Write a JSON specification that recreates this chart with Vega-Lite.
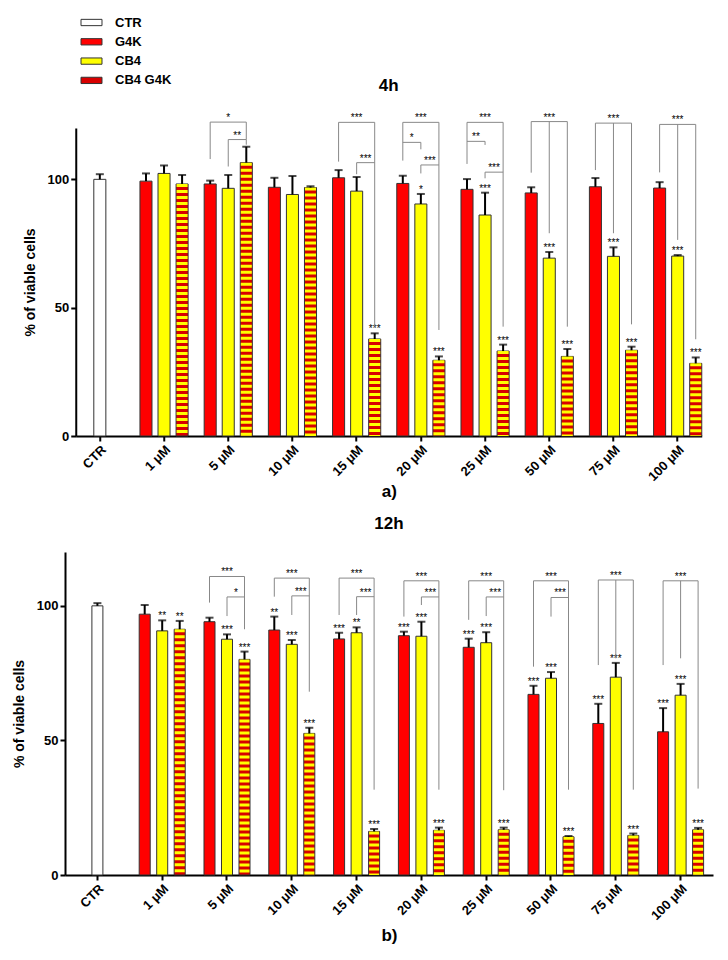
{
  "$schema": "https://vega.github.io/schema/vega-lite/v6.json",
  "padding": {"left": 12, "top": 16, "right": 10, "bottom": 10},
  "config": {
    "font": "Liberation Sans",
    "view": {"stroke": null},
    "axis": {"domainColor": "#000", "domainWidth": 2, "tickColor": "#000", "tickWidth": 2, "tickSize": 5, "labelColor": "#000", "labelFontWeight": "bold", "labelFontSize": 13, "titleFontWeight": "bold", "titleColor": "#000", "grid": false},
    "title": {"fontSize": 17, "fontWeight": "bold", "color": "#000"}
  },
  "datasets": {
    "a": [
      {"g": "CTR", "s": "CTR", "slot": 2, "v": 100, "hi": 102, "sig": ""},
      {"g": "1 μM", "s": "G4K", "slot": 1, "v": 99.3, "hi": 102.3, "sig": ""},
      {"g": "1 μM", "s": "CB4", "slot": 2, "v": 102.3, "hi": 105.4, "sig": ""},
      {"g": "1 μM", "s": "CB4 G4K", "slot": 3, "v": 98.2, "hi": 101.7, "sig": ""},
      {"g": "5 μM", "s": "G4K", "slot": 1, "v": 98.2, "hi": 99.5, "sig": ""},
      {"g": "5 μM", "s": "CB4", "slot": 2, "v": 96.5, "hi": 101.7, "sig": ""},
      {"g": "5 μM", "s": "CB4 G4K", "slot": 3, "v": 106.5, "hi": 112.7, "sig": ""},
      {"g": "10 μM", "s": "G4K", "slot": 1, "v": 96.9, "hi": 100.6, "sig": ""},
      {"g": "10 μM", "s": "CB4", "slot": 2, "v": 94.1, "hi": 101.3, "sig": ""},
      {"g": "10 μM", "s": "CB4 G4K", "slot": 3, "v": 96.8, "hi": 97.3, "sig": ""},
      {"g": "15 μM", "s": "G4K", "slot": 1, "v": 100.6, "hi": 103.6, "sig": ""},
      {"g": "15 μM", "s": "CB4", "slot": 2, "v": 95.4, "hi": 100.9, "sig": ""},
      {"g": "15 μM", "s": "CB4 G4K", "slot": 3, "v": 37.8, "hi": 40, "sig": "***"},
      {"g": "20 μM", "s": "G4K", "slot": 1, "v": 98.4, "hi": 101.4, "sig": ""},
      {"g": "20 μM", "s": "CB4", "slot": 2, "v": 90.4, "hi": 94.3, "sig": "*"},
      {"g": "20 μM", "s": "CB4 G4K", "slot": 3, "v": 29.5, "hi": 31, "sig": "***"},
      {"g": "25 μM", "s": "G4K", "slot": 1, "v": 96.1, "hi": 100.1, "sig": ""},
      {"g": "25 μM", "s": "CB4", "slot": 2, "v": 86.1, "hi": 94.8, "sig": "***"},
      {"g": "25 μM", "s": "CB4 G4K", "slot": 3, "v": 33.1, "hi": 35.6, "sig": "***"},
      {"g": "50 μM", "s": "G4K", "slot": 1, "v": 94.7, "hi": 96.9, "sig": ""},
      {"g": "50 μM", "s": "CB4", "slot": 2, "v": 69.3, "hi": 71.7, "sig": "***"},
      {"g": "50 μM", "s": "CB4 G4K", "slot": 3, "v": 31, "hi": 33.9, "sig": "***"},
      {"g": "75 μM", "s": "G4K", "slot": 1, "v": 97.1, "hi": 100.5, "sig": ""},
      {"g": "75 μM", "s": "CB4", "slot": 2, "v": 70, "hi": 73.5, "sig": "***"},
      {"g": "75 μM", "s": "CB4 G4K", "slot": 3, "v": 33.4, "hi": 34.8, "sig": "***"},
      {"g": "100 μM", "s": "G4K", "slot": 1, "v": 96.6, "hi": 98.9, "sig": ""},
      {"g": "100 μM", "s": "CB4", "slot": 2, "v": 70.1, "hi": 70.5, "sig": "***"},
      {"g": "100 μM", "s": "CB4 G4K", "slot": 3, "v": 28.3, "hi": 30.6, "sig": "***"}
    ],
    "b": [
      {"g": "CTR", "s": "CTR", "slot": 2, "v": 100, "hi": 101, "sig": ""},
      {"g": "1 μM", "s": "G4K", "slot": 1, "v": 96.9, "hi": 100.3, "sig": ""},
      {"g": "1 μM", "s": "CB4", "slot": 2, "v": 90.7, "hi": 94.6, "sig": "**"},
      {"g": "1 μM", "s": "CB4 G4K", "slot": 3, "v": 91.3, "hi": 94.4, "sig": "**"},
      {"g": "5 μM", "s": "G4K", "slot": 1, "v": 94.1, "hi": 95.6, "sig": ""},
      {"g": "5 μM", "s": "CB4", "slot": 2, "v": 87.6, "hi": 89.4, "sig": "***"},
      {"g": "5 μM", "s": "CB4 G4K", "slot": 3, "v": 80.1, "hi": 83, "sig": "***"},
      {"g": "10 μM", "s": "G4K", "slot": 1, "v": 91, "hi": 96, "sig": "**"},
      {"g": "10 μM", "s": "CB4", "slot": 2, "v": 85.7, "hi": 87.3, "sig": "***"},
      {"g": "10 μM", "s": "CB4 G4K", "slot": 3, "v": 52.6, "hi": 54.7, "sig": "***"},
      {"g": "15 μM", "s": "G4K", "slot": 1, "v": 87.7, "hi": 90, "sig": "***"},
      {"g": "15 μM", "s": "CB4", "slot": 2, "v": 90, "hi": 92, "sig": "**"},
      {"g": "15 μM", "s": "CB4 G4K", "slot": 3, "v": 16.2, "hi": 17.1, "sig": "***"},
      {"g": "20 μM", "s": "G4K", "slot": 1, "v": 88.9, "hi": 90.4, "sig": "***"},
      {"g": "20 μM", "s": "CB4", "slot": 2, "v": 88.7, "hi": 94.1, "sig": "***"},
      {"g": "20 μM", "s": "CB4 G4K", "slot": 3, "v": 16.6, "hi": 17.6, "sig": "***"},
      {"g": "25 μM", "s": "G4K", "slot": 1, "v": 84.6, "hi": 87.8, "sig": "***"},
      {"g": "25 μM", "s": "CB4", "slot": 2, "v": 86.3, "hi": 90.2, "sig": "***"},
      {"g": "25 μM", "s": "CB4 G4K", "slot": 3, "v": 16.8, "hi": 17.6, "sig": "***"},
      {"g": "50 μM", "s": "G4K", "slot": 1, "v": 67.1, "hi": 70.3, "sig": "***"},
      {"g": "50 μM", "s": "CB4", "slot": 2, "v": 73.1, "hi": 75.4, "sig": "***"},
      {"g": "50 μM", "s": "CB4 G4K", "slot": 3, "v": 14.2, "hi": 14.5, "sig": "***"},
      {"g": "75 μM", "s": "G4K", "slot": 1, "v": 56.3, "hi": 63.6, "sig": "***"},
      {"g": "75 μM", "s": "CB4", "slot": 2, "v": 73.5, "hi": 78.8, "sig": "***"},
      {"g": "75 μM", "s": "CB4 G4K", "slot": 3, "v": 14.7, "hi": 15.4, "sig": "***"},
      {"g": "100 μM", "s": "G4K", "slot": 1, "v": 53.2, "hi": 62, "sig": "***"},
      {"g": "100 μM", "s": "CB4", "slot": 2, "v": 66.8, "hi": 71, "sig": "***"},
      {"g": "100 μM", "s": "CB4 G4K", "slot": 3, "v": 16.8, "hi": 17.5, "sig": "***"}
    ],
    "ba": [
      {"g": "5 μM", "id": "5-1", "k": 1, "slot": 1, "y": 107.9},
      {"g": "5 μM", "id": "5-1", "k": 2, "slot": 1, "y": 122.3},
      {"g": "5 μM", "id": "5-1", "k": 3, "slot": 3, "y": 122.3},
      {"g": "5 μM", "id": "5-1", "k": 4, "slot": 3, "y": 115.5},
      {"g": "5 μM", "id": "5-2", "k": 1, "slot": 2, "y": 105},
      {"g": "5 μM", "id": "5-2", "k": 2, "slot": 2, "y": 115.5},
      {"g": "5 μM", "id": "5-2", "k": 3, "slot": 3, "y": 115.5},
      {"g": "5 μM", "id": "5-2", "k": 4, "slot": 3, "y": 113.5},
      {"g": "15 μM", "id": "15-1", "k": 1, "slot": 1, "y": 106.9},
      {"g": "15 μM", "id": "15-1", "k": 2, "slot": 1, "y": 122.2},
      {"g": "15 μM", "id": "15-1", "k": 3, "slot": 3, "y": 122.2},
      {"g": "15 μM", "id": "15-1", "k": 4, "slot": 3, "y": 42.6},
      {"g": "15 μM", "id": "15-2", "k": 1, "slot": 2, "y": 102},
      {"g": "15 μM", "id": "15-2", "k": 2, "slot": 2, "y": 106.5},
      {"g": "15 μM", "id": "15-2", "k": 3, "slot": 3, "y": 106.5},
      {"g": "20 μM", "id": "20-1", "k": 1, "slot": 1, "y": 107.3},
      {"g": "20 μM", "id": "20-1", "k": 2, "slot": 1, "y": 122.2},
      {"g": "20 μM", "id": "20-1", "k": 3, "slot": 3, "y": 122.2},
      {"g": "20 μM", "id": "20-1", "k": 4, "slot": 3, "y": 41.3},
      {"g": "20 μM", "id": "20-2", "k": 1, "slot": 1, "y": 114.4},
      {"g": "20 μM", "id": "20-2", "k": 2, "slot": 2, "y": 114.4},
      {"g": "20 μM", "id": "20-2", "k": 3, "slot": 2, "y": 111.7},
      {"g": "20 μM", "id": "20-3", "k": 1, "slot": 2, "y": 102.3},
      {"g": "20 μM", "id": "20-3", "k": 2, "slot": 2, "y": 105.6},
      {"g": "20 μM", "id": "20-3", "k": 3, "slot": 3, "y": 105.6},
      {"g": "25 μM", "id": "25-1", "k": 1, "slot": 1, "y": 106},
      {"g": "25 μM", "id": "25-1", "k": 2, "slot": 1, "y": 122.2},
      {"g": "25 μM", "id": "25-1", "k": 3, "slot": 3, "y": 122.2},
      {"g": "25 μM", "id": "25-1", "k": 4, "slot": 3, "y": 42.6},
      {"g": "25 μM", "id": "25-2", "k": 1, "slot": 1, "y": 114.8},
      {"g": "25 μM", "id": "25-2", "k": 2, "slot": 2, "y": 114.8},
      {"g": "25 μM", "id": "25-2", "k": 3, "slot": 2, "y": 113.4},
      {"g": "25 μM", "id": "25-3", "k": 1, "slot": 2, "y": 100.4},
      {"g": "25 μM", "id": "25-3", "k": 2, "slot": 2, "y": 102.8},
      {"g": "25 μM", "id": "25-3", "k": 3, "slot": 3, "y": 102.8},
      {"g": "50 μM", "id": "50-1", "k": 1, "slot": 1, "y": 102.6},
      {"g": "50 μM", "id": "50-1", "k": 2, "slot": 1, "y": 122.5},
      {"g": "50 μM", "id": "50-1", "k": 3, "slot": 3, "y": 122.5},
      {"g": "50 μM", "id": "50-1", "k": 4, "slot": 3, "y": 42.6},
      {"g": "50 μM", "id": "50-m", "k": 1, "slot": 2, "y": 122.5},
      {"g": "50 μM", "id": "50-m", "k": 2, "slot": 2, "y": 79},
      {"g": "75 μM", "id": "75-1", "k": 1, "slot": 1, "y": 103.6},
      {"g": "75 μM", "id": "75-1", "k": 2, "slot": 1, "y": 121.9},
      {"g": "75 μM", "id": "75-1", "k": 3, "slot": 3, "y": 121.9},
      {"g": "75 μM", "id": "75-1", "k": 4, "slot": 3, "y": 43.5},
      {"g": "75 μM", "id": "75-m", "k": 1, "slot": 2, "y": 121.9},
      {"g": "75 μM", "id": "75-m", "k": 2, "slot": 2, "y": 79},
      {"g": "100 μM", "id": "100-1", "k": 1, "slot": 1, "y": 102.7},
      {"g": "100 μM", "id": "100-1", "k": 2, "slot": 1, "y": 121.4},
      {"g": "100 μM", "id": "100-1", "k": 3, "slot": 3, "y": 121.4},
      {"g": "100 μM", "id": "100-1", "k": 4, "slot": 3, "y": 37.7},
      {"g": "100 μM", "id": "100-m", "k": 1, "slot": 2, "y": 121.4},
      {"g": "100 μM", "id": "100-m", "k": 2, "slot": 2, "y": 76.4}
    ],
    "la": [
      {"g": "5 μM", "slot": 2, "y": 122.3, "lab": "*", "half": 0},
      {"g": "5 μM", "slot": 2, "y": 115.5, "lab": "**", "half": 1},
      {"g": "15 μM", "slot": 2, "y": 122.2, "lab": "***", "half": 0},
      {"g": "15 μM", "slot": 2, "y": 106.5, "lab": "***", "half": 1},
      {"g": "20 μM", "slot": 2, "y": 122.2, "lab": "***", "half": 0},
      {"g": "20 μM", "slot": 1, "y": 114.4, "lab": "*", "half": 1},
      {"g": "20 μM", "slot": 2, "y": 105.6, "lab": "***", "half": 1},
      {"g": "25 μM", "slot": 2, "y": 122.2, "lab": "***", "half": 0},
      {"g": "25 μM", "slot": 1, "y": 114.8, "lab": "**", "half": 1},
      {"g": "25 μM", "slot": 2, "y": 102.8, "lab": "***", "half": 1},
      {"g": "50 μM", "slot": 2, "y": 122.5, "lab": "***", "half": 0},
      {"g": "75 μM", "slot": 2, "y": 121.9, "lab": "***", "half": 0},
      {"g": "100 μM", "slot": 2, "y": 121.4, "lab": "***", "half": 0}
    ],
    "bb": [
      {"g": "5 μM", "id": "5-1", "k": 1, "slot": 1, "y": 101.2},
      {"g": "5 μM", "id": "5-1", "k": 2, "slot": 1, "y": 110.9},
      {"g": "5 μM", "id": "5-1", "k": 3, "slot": 3, "y": 110.9},
      {"g": "5 μM", "id": "5-1", "k": 4, "slot": 3, "y": 91.3},
      {"g": "5 μM", "id": "5-2", "k": 1, "slot": 2, "y": 96.2},
      {"g": "5 μM", "id": "5-2", "k": 2, "slot": 2, "y": 103.3},
      {"g": "5 μM", "id": "5-2", "k": 3, "slot": 3, "y": 103.3},
      {"g": "10 μM", "id": "10-1", "k": 1, "slot": 1, "y": 103.4},
      {"g": "10 μM", "id": "10-1", "k": 2, "slot": 1, "y": 110.3},
      {"g": "10 μM", "id": "10-1", "k": 3, "slot": 3, "y": 110.3},
      {"g": "10 μM", "id": "10-1", "k": 4, "slot": 3, "y": 68.1},
      {"g": "10 μM", "id": "10-2", "k": 1, "slot": 2, "y": 96.6},
      {"g": "10 μM", "id": "10-2", "k": 2, "slot": 2, "y": 103.7},
      {"g": "10 μM", "id": "10-2", "k": 3, "slot": 3, "y": 103.7},
      {"g": "15 μM", "id": "15-1", "k": 1, "slot": 1, "y": 96.6},
      {"g": "15 μM", "id": "15-1", "k": 2, "slot": 1, "y": 110.3},
      {"g": "15 μM", "id": "15-1", "k": 3, "slot": 3, "y": 110.3},
      {"g": "15 μM", "id": "15-1", "k": 4, "slot": 3, "y": 31.7},
      {"g": "15 μM", "id": "15-2", "k": 1, "slot": 2, "y": 96.6},
      {"g": "15 μM", "id": "15-2", "k": 2, "slot": 2, "y": 103.4},
      {"g": "15 μM", "id": "15-2", "k": 3, "slot": 3, "y": 103.4},
      {"g": "20 μM", "id": "20-1", "k": 1, "slot": 1, "y": 96},
      {"g": "20 μM", "id": "20-1", "k": 2, "slot": 1, "y": 109.3},
      {"g": "20 μM", "id": "20-1", "k": 3, "slot": 3, "y": 109.3},
      {"g": "20 μM", "id": "20-1", "k": 4, "slot": 3, "y": 31.7},
      {"g": "20 μM", "id": "20-2", "k": 1, "slot": 2, "y": 100.3},
      {"g": "20 μM", "id": "20-2", "k": 2, "slot": 2, "y": 103.3},
      {"g": "20 μM", "id": "20-2", "k": 3, "slot": 3, "y": 103.3},
      {"g": "25 μM", "id": "25-1", "k": 1, "slot": 1, "y": 94.8},
      {"g": "25 μM", "id": "25-1", "k": 2, "slot": 1, "y": 109.3},
      {"g": "25 μM", "id": "25-1", "k": 3, "slot": 3, "y": 109.3},
      {"g": "25 μM", "id": "25-1", "k": 4, "slot": 3, "y": 31.5},
      {"g": "25 μM", "id": "25-2", "k": 1, "slot": 2, "y": 96.2},
      {"g": "25 μM", "id": "25-2", "k": 2, "slot": 2, "y": 103.3},
      {"g": "25 μM", "id": "25-2", "k": 3, "slot": 3, "y": 103.3},
      {"g": "50 μM", "id": "50-1", "k": 1, "slot": 1, "y": 77.4},
      {"g": "50 μM", "id": "50-1", "k": 2, "slot": 1, "y": 109.3},
      {"g": "50 μM", "id": "50-1", "k": 3, "slot": 3, "y": 109.3},
      {"g": "50 μM", "id": "50-1", "k": 4, "slot": 3, "y": 31.7},
      {"g": "50 μM", "id": "50-2", "k": 1, "slot": 2, "y": 96},
      {"g": "50 μM", "id": "50-2", "k": 2, "slot": 2, "y": 103.1},
      {"g": "50 μM", "id": "50-2", "k": 3, "slot": 3, "y": 103.1},
      {"g": "75 μM", "id": "75-1", "k": 1, "slot": 1, "y": 78},
      {"g": "75 μM", "id": "75-1", "k": 2, "slot": 1, "y": 109.6},
      {"g": "75 μM", "id": "75-1", "k": 3, "slot": 3, "y": 109.6},
      {"g": "75 μM", "id": "75-1", "k": 4, "slot": 3, "y": 31.7},
      {"g": "75 μM", "id": "75-m", "k": 1, "slot": 2, "y": 109.6},
      {"g": "75 μM", "id": "75-m", "k": 2, "slot": 2, "y": 80.5},
      {"g": "100 μM", "id": "100-1", "k": 1, "slot": 1, "y": 78},
      {"g": "100 μM", "id": "100-1", "k": 2, "slot": 1, "y": 109.3},
      {"g": "100 μM", "id": "100-1", "k": 3, "slot": 3, "y": 109.3},
      {"g": "100 μM", "id": "100-1", "k": 4, "slot": 3, "y": 32.1},
      {"g": "100 μM", "id": "100-m", "k": 1, "slot": 2, "y": 109.3},
      {"g": "100 μM", "id": "100-m", "k": 2, "slot": 2, "y": 80.5}
    ],
    "lb": [
      {"g": "5 μM", "slot": 2, "y": 110.9, "lab": "***", "half": 0},
      {"g": "5 μM", "slot": 2, "y": 103.3, "lab": "*", "half": 1},
      {"g": "10 μM", "slot": 2, "y": 110.3, "lab": "***", "half": 0},
      {"g": "10 μM", "slot": 2, "y": 103.7, "lab": "***", "half": 1},
      {"g": "15 μM", "slot": 2, "y": 110.3, "lab": "***", "half": 0},
      {"g": "15 μM", "slot": 2, "y": 103.4, "lab": "***", "half": 1},
      {"g": "20 μM", "slot": 2, "y": 109.3, "lab": "***", "half": 0},
      {"g": "20 μM", "slot": 2, "y": 103.3, "lab": "***", "half": 1},
      {"g": "25 μM", "slot": 2, "y": 109.3, "lab": "***", "half": 0},
      {"g": "25 μM", "slot": 2, "y": 103.3, "lab": "***", "half": 1},
      {"g": "50 μM", "slot": 2, "y": 109.3, "lab": "***", "half": 0},
      {"g": "50 μM", "slot": 2, "y": 103.1, "lab": "***", "half": 1},
      {"g": "75 μM", "slot": 2, "y": 109.6, "lab": "***", "half": 0},
      {"g": "100 μM", "slot": 2, "y": 109.3, "lab": "***", "half": 0}
    ]
  },
  "vconcat": [
    {
      "width": 626,
      "height": 308,
      "title": {"text": "4h", "offset": 18},
      "encoding": {
        "x": {"field": "g", "type": "nominal", "sort": null,
          "scale": {"domain": ["CTR", "1 μM", "5 μM", "10 μM", "15 μM", "20 μM", "25 μM", "50 μM", "75 μM", "100 μM"], "paddingInner": 0.25, "paddingOuter": 0},
          "axis": {"title": "a)", "labelAngle": -45, "titleFontSize": 17, "titlePadding": 0, "labelPadding": 2}},
        "xOffset": {"field": "slot", "type": "nominal", "scale": {"domain": [1, 2, 3], "paddingInner": 0.333, "paddingOuter": 0}}
      },
      "layer": [
        {
          "data": {"name": "a"},
          "mark": {"type": "bar", "stroke": "#333", "strokeWidth": 1},
          "encoding": {
            "y": {"field": "v", "type": "quantitative", "scale": {"domain": [0, 120], "nice": false},
              "axis": {"title": "% of viable cells", "values": [0, 50, 100], "titleFontSize": 14, "labelFontSize": 13, "titlePadding": 10, "labelPadding": 2}},
            "fill": {
              "field": "s", "type": "nominal",
              "scale": {"domain": ["CTR", "G4K", "CB4", "CB4 G4K"], "range": ["#ffffff", "#ff0000", "#ffff00", "#d80000"]},
              "legend": {"orient": "none", "legendX": 20, "legendY": -112, "title": null, "padding": 0,
                "symbolType": "M-2,-0.6L2,-0.6L2,0.6L-2,0.6Z", "symbolSize": 110, "symbolStrokeWidth": 1, "symbolOpacity": 1,
                "labelFontSize": 13, "labelFontWeight": "bold", "labelColor": "#000", "labelOffset": 17, "rowPadding": 5.3}
            }
          }
        },
        {
          "data": {"name": "a"},
          "transform": [{"filter": "datum.s === 'CB4 G4K'"}],
          "mark": {"type": "rule", "color": "#ffff00", "strokeWidth": 11, "strokeDash": [3, 3], "strokeCap": "butt"},
          "encoding": {"y": {"field": "v", "type": "quantitative"}, "y2": {"datum": 0}}
        },
        {
          "data": {"name": "a"},
          "mark": {"type": "rule", "color": "#000", "strokeWidth": 2},
          "encoding": {"y": {"field": "v", "type": "quantitative"}, "y2": {"field": "hi"}}
        },
        {
          "data": {"name": "a"},
          "mark": {"type": "tick", "orient": "horizontal", "color": "#000", "size": 8, "thickness": 2},
          "encoding": {"y": {"field": "hi", "type": "quantitative"}}
        },
        {
          "data": {"name": "a"},
          "mark": {"type": "text", "fontSize": 10, "baseline": "alphabetic", "dy": -1, "color": "#000"},
          "encoding": {"y": {"field": "hi", "type": "quantitative"}, "text": {"field": "sig"}}
        },
        {
          "data": {"name": "ba"},
          "mark": {"type": "line", "color": "#888", "strokeWidth": 1},
          "encoding": {"y": {"field": "y", "type": "quantitative"}, "detail": {"field": "id"}, "order": {"field": "k"}}
        },
        {
          "data": {"name": "la"},
          "transform": [{"filter": "datum.half === 0"}],
          "mark": {"type": "text", "fontSize": 10, "baseline": "alphabetic", "dy": -1, "color": "#000"},
          "encoding": {"y": {"field": "y", "type": "quantitative"}, "text": {"field": "lab"}}
        },
        {
          "data": {"name": "la"},
          "transform": [{"filter": "datum.half === 1"}],
          "mark": {"type": "text", "fontSize": 10, "baseline": "alphabetic", "dy": -1, "dx": 9, "color": "#000"},
          "encoding": {"y": {"field": "y", "type": "quantitative"}, "text": {"field": "lab"}}
        }
      ]
    },
    {
      "width": 648,
      "height": 323,
      "title": {"text": "12h", "offset": 19},
      "encoding": {
        "x": {"field": "g", "type": "nominal", "sort": null,
          "scale": {"domain": ["CTR", "1 μM", "5 μM", "10 μM", "15 μM", "20 μM", "25 μM", "50 μM", "75 μM", "100 μM"], "paddingInner": 0.29, "paddingOuter": 0.145},
          "axis": {"title": "b)", "labelAngle": -45, "titleFontSize": 17, "titlePadding": 5, "labelPadding": 2}},
        "xOffset": {"field": "slot", "type": "nominal", "scale": {"domain": [1, 2, 3], "paddingInner": 0.371, "paddingOuter": 0}}
      },
      "layer": [
        {
          "data": {"name": "b"},
          "mark": {"type": "bar", "stroke": "#333", "strokeWidth": 1},
          "encoding": {
            "y": {"field": "v", "type": "quantitative", "scale": {"domain": [0, 120], "nice": false},
              "axis": {"title": "% of viable cells", "values": [0, 50, 100], "titleFontSize": 14, "labelFontSize": 13, "titlePadding": 10, "labelPadding": 2}},
            "fill": {"field": "s", "type": "nominal"}
          }
        },
        {
          "data": {"name": "b"},
          "transform": [{"filter": "datum.s === 'CB4 G4K'"}],
          "mark": {"type": "rule", "color": "#ffff00", "strokeWidth": 10, "strokeDash": [3, 3], "strokeCap": "butt"},
          "encoding": {"y": {"field": "v", "type": "quantitative"}, "y2": {"datum": 0}}
        },
        {
          "data": {"name": "b"},
          "mark": {"type": "rule", "color": "#000", "strokeWidth": 2},
          "encoding": {"y": {"field": "v", "type": "quantitative"}, "y2": {"field": "hi"}}
        },
        {
          "data": {"name": "b"},
          "mark": {"type": "tick", "orient": "horizontal", "color": "#000", "size": 8, "thickness": 2},
          "encoding": {"y": {"field": "hi", "type": "quantitative"}}
        },
        {
          "data": {"name": "b"},
          "mark": {"type": "text", "fontSize": 10, "baseline": "alphabetic", "dy": -1, "color": "#000"},
          "encoding": {"y": {"field": "hi", "type": "quantitative"}, "text": {"field": "sig"}}
        },
        {
          "data": {"name": "bb"},
          "mark": {"type": "line", "color": "#888", "strokeWidth": 1},
          "encoding": {"y": {"field": "y", "type": "quantitative"}, "detail": {"field": "id"}, "order": {"field": "k"}}
        },
        {
          "data": {"name": "lb"},
          "transform": [{"filter": "datum.half === 0"}],
          "mark": {"type": "text", "fontSize": 10, "baseline": "alphabetic", "dy": -1, "color": "#000"},
          "encoding": {"y": {"field": "y", "type": "quantitative"}, "text": {"field": "lab"}}
        },
        {
          "data": {"name": "lb"},
          "transform": [{"filter": "datum.half === 1"}],
          "mark": {"type": "text", "fontSize": 10, "baseline": "alphabetic", "dy": -1, "dx": 9, "color": "#000"},
          "encoding": {"y": {"field": "y", "type": "quantitative"}, "text": {"field": "lab"}}
        }
      ]
    }
  ],
  "spacing": 15,
  "center": true,
  "resolve": {"scale": {"x": "independent", "y": "independent", "xOffset": "independent", "fill": "shared"}}
}
